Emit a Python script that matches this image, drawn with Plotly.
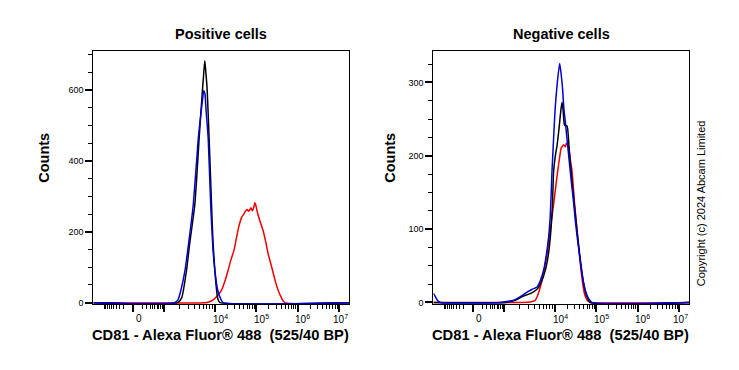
import numpy as np
import plotly.graph_objects as go

# ---------------- data (x in display units of the biexponential axis: 10^4 -> 4, 10^5 -> 5 ...) ----------
pos_black_x = [1.07, 3.106, 3.203, 3.316, 3.396, 3.517, 3.621, 3.703, 3.734, 3.758, 3.783, 3.814, 3.862, 3.920, 3.952, 4.000, 4.048, 4.080, 4.121, 7.24]
pos_black_y = [0, 0, 15, 91, 170, 277, 463, 603, 650, 682, 650, 603, 463, 277, 180, 91, 30, 8, 0, 0]

pos_blue_x = [1.07, 3.03, 3.11, 3.18, 3.28, 3.37, 3.48, 3.60, 3.66, 3.71, 3.73, 3.76, 3.79, 3.84, 3.90, 3.95, 4.00, 4.07, 4.145, 4.20, 7.24]
pos_blue_y = [0, 0, 8, 35, 91, 170, 277, 463, 530, 580, 598, 590, 540, 463, 277, 160, 91, 35, 10, 0, 0]

pos_red_x = [1.07, 3.76, 3.855, 3.96, 4.05, 4.16, 4.24, 4.32, 4.386, 4.46, 4.524, 4.58, 4.645, 4.70, 4.737, 4.78,
             4.81, 4.845, 4.87, 4.906, 4.942, 4.966, 4.99, 5.027, 5.087, 5.167, 5.232, 5.287, 5.34, 5.394,
             5.461, 5.529, 5.606, 5.691, 7.24]
pos_red_y = [0, 0, 2, 8, 18, 35, 60, 91, 120, 147, 184, 215, 240, 250, 258, 263,
             258, 262, 268, 259, 270, 282, 275, 255, 231, 203, 170, 138, 115, 91,
             60, 35, 14, 0, 0]

neg_blue_x = [1.072, 1.114, 1.162, 1.234, 2.684, 2.80, 3.005, 3.167, 3.329, 3.457, 3.57, 3.65, 3.729, 3.795, 3.85,
              3.891, 3.932, 3.971, 4.012, 4.06, 4.116, 4.145, 4.188, 4.217, 4.254, 4.29, 4.333, 4.374, 4.415,
              4.459, 4.495, 4.543, 4.592, 4.64, 4.696, 4.761, 4.816, 4.899, 7.24]
neg_blue_y = [12, 8, 3, 0, 0, 1, 3, 8, 14, 18, 21, 30, 44, 65, 89,
              120, 179, 225, 268, 300, 326, 315, 291, 265, 246, 225, 201, 178, 156,
              133, 111, 88, 66, 45, 26, 12, 5, 0, 0]

neg_black_x = [1.07, 2.80, 3.046, 3.215, 3.408, 3.57, 3.674, 3.771, 3.843, 3.891, 3.94, 3.971, 4.012, 4.053, 4.097,
               4.145, 4.174, 4.20, 4.229, 4.254, 4.285, 4.309, 4.357, 4.43, 4.512, 4.599, 4.696, 4.761, 4.857, 7.24]
neg_black_y = [0, 0, 3, 8, 12, 18, 28, 44, 65, 89, 130, 179, 200, 214, 235,
               262, 273, 262, 243, 241, 241, 237, 201, 156, 111, 66, 26, 10, 0, 0]

neg_red_x = [1.07, 3.167, 3.408, 3.529, 3.65, 3.812, 3.891, 3.971, 4.068, 4.109, 4.15, 4.181, 4.213, 4.254, 4.278,
             4.309, 4.338, 4.374, 4.415, 4.478, 4.551, 4.633, 4.688, 4.737, 4.797, 4.857, 7.24]
neg_red_y = [0, 0, 0.5, 3, 21, 66, 100, 134, 179, 195, 210, 213, 215, 212, 217,
             215, 210, 195, 179, 134, 89, 44, 20, 8, 2, 0, 0]

x_tick_labels = ["0", "10<sup>4</sup>", "10<sup>5</sup>", "10<sup>6</sup>", "10<sup>7</sup>"]
x_tick_values = [0, 1e4, 1e5, 1e6, 1e7]
left_y_ticks = [0, 200, 400, 600]
right_y_ticks = [0, 100, 200, 300]
titles = ["Positive cells", "Negative cells"]
x_title = "CD81 - Alexa Fluor® 488 \u00a0(525/40 BP)"
y_title = "Counts"
copyright_text = "Copyright (c) 2024 Abcam Limited"


# ---------------- biexponential display mapping (for ticks) ----------------
def disp(v):
    if v >= 1e4:
        return float(np.log10(v))
    if v >= 1e3:
        return 2.77 + 1.23 * float(np.log10(v / 1e3))
    if v >= 0:
        return 2.03 + 0.74 * float(np.sqrt(v / 1e3))
    return 2.03 - 0.74 * float(np.sqrt(-v / 1e3))


major_vals = [0, 1e3, 1e4, 1e5, 1e6, 1e7]
minor_vals = []
for m in range(1, 10):
    minor_vals.append(-m * 100)
for dec in [100, 1e3, 1e4, 1e5, 1e6]:
    for m in range(1, 10):
        v = m * dec
        if v not in major_vals:
            minor_vals.append(v)
major_t = [disp(v) for v in major_vals]
minor_t = [disp(v) for v in minor_vals]

label_t = [disp(v) + off for v, off in zip(x_tick_values, [0.135, 0.145, 0.123, 0.113, 0.03])]

W, H = 739, 370
FONT = "Arial, Liberation Sans, sans-serif"
BLACK, BLUE, RED = "#000000", "#0000d0", "#ee0000"

fig = go.Figure()
lw = 1.5


def line(color):
    return dict(color=color, width=lw, shape="spline", smoothing=0.5)


fig.add_trace(go.Scatter(x=pos_red_x, y=pos_red_y, mode="lines", line=line(RED), xaxis="x", yaxis="y"))
fig.add_trace(go.Scatter(x=pos_black_x, y=pos_black_y, mode="lines", line=line(BLACK), xaxis="x", yaxis="y"))
fig.add_trace(go.Scatter(x=pos_blue_x, y=pos_blue_y, mode="lines", line=line(BLUE), xaxis="x", yaxis="y"))
fig.add_trace(go.Scatter(x=neg_red_x, y=neg_red_y, mode="lines", line=line(RED), xaxis="x2", yaxis="y2"))
fig.add_trace(go.Scatter(x=neg_black_x, y=neg_black_y, mode="lines", line=line(BLACK), xaxis="x2", yaxis="y2"))
fig.add_trace(go.Scatter(x=neg_blue_x, y=neg_blue_y, mode="lines", line=line(BLUE), xaxis="x2", yaxis="y2"))

ybot, ytop = 307.5, 51.5
ydom = [(H - ybot) / H, (H - ytop) / H]
panels = [
    dict(x0=93.3, x1=349.0, yrange=[-4.2, 710], yticks=left_y_ticks, ydt=50),
    dict(x0=433.3, x1=689.0, yrange=[-2.4, 343], yticks=right_y_ticks, ydt=25),
]


def xaxis_cfg(p):
    return dict(
        domain=[p["x0"] / W, p["x1"] / W], range=[1.065, 7.24], anchor=None,
        showline=True, linecolor="black", linewidth=1, mirror=True,
        showgrid=False, zeroline=False,
        tickmode="array", tickvals=major_t, ticktext=[""] * len(major_t),
        ticks="outside", ticklen=7, tickwidth=2, tickcolor="black",
        minor=dict(tickmode="array", tickvals=minor_t, ticks="outside", ticklen=4, tickwidth=1, tickcolor="black"),
        fixedrange=True,
    )


def yaxis_cfg(p):
    return dict(
        domain=ydom, range=p["yrange"],
        showline=True, linecolor="black", linewidth=1, mirror=True,
        showgrid=False, zeroline=False,
        tickmode="array", tickvals=p["yticks"], ticktext=[str(v) for v in p["yticks"]],
        ticks="outside", ticklen=7, tickwidth=2, tickcolor="black",
        tickfont=dict(family=FONT, size=9, color="black"),
        minor=dict(tickmode="linear", tick0=0, dtick=p["ydt"], ticks="outside", ticklen=4, tickwidth=1, tickcolor="black"),
        fixedrange=True,
    )


xa1 = xaxis_cfg(panels[0]); xa1["anchor"] = "y"
xa2 = xaxis_cfg(panels[1]); xa2["anchor"] = "y2"
ya1 = yaxis_cfg(panels[0]); ya1["anchor"] = "x"
ya2 = yaxis_cfg(panels[1]); ya2["anchor"] = "x2"

annotations = []
for i, (p, xr) in enumerate(zip(panels, ["x", "x2"])):
    cx = (p["x0"] + p["x1"]) / 2
    annotations.append(dict(text="<b>" + titles[i] + "</b>", x=cx / W, y=(H - 34.5) / H, xref="paper", yref="paper",
                            showarrow=False, xanchor="center", yanchor="middle",
                            font=dict(family=FONT, size=14.5, color="black")))
    annotations.append(dict(text="<b>" + x_title + "</b>", x=(cx - 0.5) / W, y=(H - 338.5) / H, xref="paper", yref="paper",
                            showarrow=False, xanchor="center", yanchor="middle",
                            font=dict(family=FONT, size=14.7, color="black")))
    ycx = 44 if i == 0 else 390
    annotations.append(dict(text="<b>" + y_title + "</b>", x=ycx / W, y=(H - 159.5) / H, xref="paper", yref="paper",
                            showarrow=False, xanchor="center", yanchor="middle", textangle=-90,
                            font=dict(family=FONT, size=14.5, color="black")))
    for lt, txt in zip(label_t, x_tick_labels):
        annotations.append(dict(text=txt, x=lt, y=(H - 322) / H, xref=xr, yref="paper",
                                showarrow=False, xanchor="center", yanchor="middle",
                                font=dict(family=FONT, size=10, color="black")))

annotations.append(dict(text=copyright_text, x=701 / W, y=(H - 205.5) / H, xref="paper", yref="paper",
                        showarrow=False, xanchor="center", yanchor="middle", textangle=-90,
                        font=dict(family=FONT, size=11, color="black")))

fig.update_layout(
    width=W, height=H, margin=dict(l=0, r=0, t=0, b=0),
    paper_bgcolor="white", plot_bgcolor="white", showlegend=False,
    xaxis=xa1, yaxis=ya1, xaxis2=xa2, yaxis2=ya2,
    annotations=annotations,
)

fig.write_html("out.html", config={"displayModeBar": False},
               post_script="document.body.style.margin='0';document.body.style.overflow='hidden';")
